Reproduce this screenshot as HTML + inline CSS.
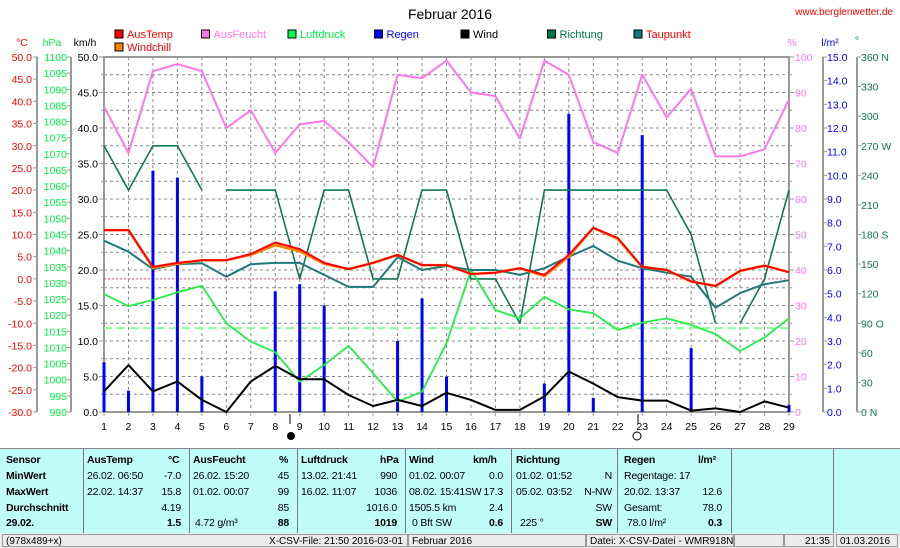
<!DOCTYPE html>
<html><head><meta charset="utf-8">
<style>
body{margin:0;width:900px;height:548px;background:#fff;font-family:"Liberation Sans",sans-serif;overflow:hidden;position:relative}
svg{position:absolute;left:0;top:0}
#tbl{position:absolute;left:0;top:448px;width:900px;height:84px;background:#c0fcf8;border-top:1px solid #888;font-size:10.5px;letter-spacing:-0.2px}
.c{position:absolute;top:0;height:84px;border-left:1px solid #777}
.t{position:absolute;white-space:nowrap}
.b{font-weight:bold}
#status{position:absolute;left:0;top:533px;width:900px;height:15px;background:#ececec;font-size:10px}
.s{position:absolute;top:1px;height:13px;border:1px solid #999;line-height:13px;padding:0 3px;box-sizing:border-box;white-space:nowrap}
</style></head><body>
<svg id="chart" width="900" height="448"></svg>

<div id="tbl">
<div class="c" style="left:83px"></div><div class="c" style="left:189px"></div><div class="c" style="left:297px"></div><div class="c" style="left:405px"></div><div class="c" style="left:511px"></div><div class="c" style="left:617px"></div><div class="c" style="left:731px"></div><div class="c" style="left:833px"></div>
<div class="t b" style="left:6px;top:5px">Sensor</div><div class="t b" style="left:6px;top:21px">MinWert</div><div class="t b" style="left:6px;top:37px">MaxWert</div><div class="t b" style="left:6px;top:53px">Durchschnitt</div><div class="t b" style="left:6px;top:68px">29.02.</div>
<div class="t b" style="left:87px;top:5px">AusTemp</div><div class="t b" style="left:168px;top:5px">°C</div>
<div class="t" style="left:87px;top:21px">26.02.  06:50</div><div class="t" style="right:719px;top:21px">-7.0</div>
<div class="t" style="left:87px;top:37px">22.02.  14:37</div><div class="t" style="right:719px;top:37px">15.8</div>
<div class="t" style="right:719px;top:53px">4.19</div><div class="t b" style="right:719px;top:68px">1.5</div>
<div class="t b" style="left:193px;top:5px">AusFeucht</div><div class="t b" style="left:279px;top:5px">%</div>
<div class="t" style="left:193px;top:21px">26.02.  15:20</div><div class="t" style="right:611px;top:21px">45</div>
<div class="t" style="left:193px;top:37px">01.02.  00:07</div><div class="t" style="right:611px;top:37px">99</div>
<div class="t" style="right:611px;top:53px">85</div><div class="t" style="left:195px;top:68px">4.72 g/m³</div><div class="t b" style="right:611px;top:68px">88</div>
<div class="t b" style="left:301px;top:5px">Luftdruck</div><div class="t b" style="left:380px;top:5px">hPa</div>
<div class="t" style="left:301px;top:21px">13.02.  21:41</div><div class="t" style="right:503px;top:21px">990</div>
<div class="t" style="left:301px;top:37px">16.02.  11:07</div><div class="t" style="right:503px;top:37px">1036</div>
<div class="t" style="right:503px;top:53px">1016.0</div><div class="t b" style="right:503px;top:68px">1019</div>
<div class="t b" style="left:409px;top:5px">Wind</div><div class="t b" style="left:473px;top:5px">km/h</div>
<div class="t" style="left:409px;top:21px">01.02.  00:07</div><div class="t" style="right:397px;top:21px">0.0</div>
<div class="t" style="left:409px;top:37px">08.02. 15:41SW</div><div class="t" style="right:397px;top:37px">17.3</div>
<div class="t" style="left:409px;top:53px">1505.5 km</div><div class="t" style="right:397px;top:53px">2.4</div>
<div class="t" style="left:412px;top:68px">0 Bft SW</div><div class="t b" style="right:397px;top:68px">0.6</div>
<div class="t b" style="left:516px;top:5px">Richtung</div>
<div class="t" style="left:516px;top:21px">01.02.  01:52</div><div class="t" style="right:288px;top:21px">N</div>
<div class="t" style="left:516px;top:37px">05.02.  03:52</div><div class="t" style="right:288px;top:37px">N-NW</div>
<div class="t" style="right:288px;top:53px">SW</div><div class="t" style="left:520px;top:68px">225 °</div><div class="t b" style="right:288px;top:68px">SW</div>
<div class="t b" style="left:624px;top:5px">Regen</div><div class="t b" style="left:698px;top:5px">l/m²</div>
<div class="t" style="left:624px;top:21px">Regentage: 17</div>
<div class="t" style="left:624px;top:37px">20.02.  13:37</div><div class="t" style="right:178px;top:37px">12.6</div>
<div class="t" style="left:624px;top:53px">Gesamt:</div><div class="t" style="right:178px;top:53px">78.0</div>
<div class="t" style="left:627px;top:68px">78.0 l/m²</div><div class="t b" style="right:178px;top:68px">0.3</div>
</div>
<div id="status">
<div class="s" style="left:2px;width:406px">(978x489+x)<span style="position:absolute;right:4px">X-CSV-File:  21:50  2016-03-01</span></div>
<div class="s" style="left:408px;width:178px">Februar 2016</div>
<div class="s" style="left:586px;width:148px">Datei: X-CSV-Datei - WMR918N</div>
<div class="s" style="left:734px;width:50px"></div>
<div class="s" style="left:784px;width:50px;text-align:right">21:35</div>
<div class="s" style="left:836px;width:62px">01.03.2016</div>
</div>

<script>
const days=[1,2,3,4,5,6,7,8,9,10,11,12,13,14,15,16,17,18,19,20,21,22,23,24,25,26,27,28,29];
const ausTemp=[11.0,11.0,2.7,3.6,4.2,4.2,5.6,8.2,6.7,3.6,2.2,3.6,5.4,3.1,3.1,1.1,1.4,2.4,0.9,5.4,11.5,9.2,2.7,2.0,-0.6,-1.6,1.8,3.0,1.5];
const windchill=[11.0,11.0,2.5,3.4,4.2,4.2,5.4,7.6,6.2,3.4,2.2,3.6,5.4,3.1,3.1,1.1,1.4,2.4,0.6,5.0,11.5,9.0,2.7,2.0,-0.6,-1.6,1.8,3.0,1.5];
const ausFeucht=[86,73,96,98,96,80,85,73,81,82,76,69,95,94,99,90,89,77,99,95,76,73,95,83,91,72,72,74,88];
const luftdruck=[1026.5,1022.8,1024.7,1027.1,1029.1,1017.5,1011.8,1008.5,999.4,1004.6,1010.5,1002,993.2,996.3,1011.3,1034,1021.6,1019,1025.7,1021.8,1020.6,1015.4,1017.7,1019,1017,1014.1,1008.9,1013.1,1019];
const regen=[2.1,0.9,10.2,9.9,1.5,0,0,5.1,5.4,4.5,0,0,3.0,4.8,1.5,0,0,0,1.2,12.6,0.6,0,11.7,0,2.7,0,0,0,0.3];
const wind=[2.9,6.6,2.9,4.3,1.7,0,4.3,6.5,4.6,4.6,2.4,0.85,1.7,0.85,2.7,1.7,0.3,0.3,2.2,5.7,4.0,2.1,1.6,1.6,0.2,0.5,0,1.5,0.6];
const richtung=[270,225,270,270,225,225,225,225,135,225,225,135,135,225,225,135,135,90,225,225,225,225,225,225,180,90,90,135,225];
const richtungBreaks=[5,26];
const taupunkt=[8.6,6.1,2.2,3.3,3.5,0.5,3.3,3.6,3.6,0.9,-1.8,-1.8,4.9,2.0,2.9,2.0,2.0,0.9,2.4,5.0,7.4,4.1,2.4,1.4,0.5,-6.5,-3.2,-1.2,-0.3];
const luftdruckAvg=[1016.0];
const tempTicks=[50,45,40,35,30,25,20,15,10,5,0,-5,-10,-15,-20,-25,-30];

const NS="http://www.w3.org/2000/svg";
const svg=document.getElementById('chart');
const L=104,R=789,T=57,B=412;
const X=d=>L+(d-1)*(R-L)/28;
const yT=v=>B-(v+30)*(B-T)/80;
const yP=v=>B-(v-990)*(B-T)/110;
const yK=v=>B-v*(B-T)/50;
const yH=v=>B-v*(B-T)/100;
const yR=v=>B-v*(B-T)/15;
const yD=v=>B-v*(B-T)/360;
function el(t,a,p){const e=document.createElementNS(NS,t);for(const k in a)e.setAttribute(k,a[k]);(p||svg).appendChild(e);return e;}
function txt(x,y,s,fill,anchor,size){const e=el('text',{x:x,y:y,fill:fill,'font-size':size||10.5,'text-anchor':anchor||'start','font-family':'Liberation Sans, sans-serif'});e.textContent=s;return e;}

let e=txt(450,19,'Februar 2016','#000','middle',14);


e=txt(893,15,'www.berglenwetter.de','#f00','end',10);



const legNames=['AusTemp','AusFeucht','Luftdruck','Regen','Wind','Richtung','Taupunkt'];
const legCols=['#ff0000','#ff77ee','#00ff44','#0000ff','#000000','#007744','#117777'];
const legText=['#ff0000','#ff77ee','#00ee44','#0000ff','#000000','#007744','#ff0000'];
for(let i=0;i<7;i++){
  const g=el('g',{});
  
  
  const x=115+i*86.5;
  el('rect',{x:x,y:30,width:8,height:8,fill:legCols[i],stroke:'#000','stroke-width':1},g);
  g.appendChild(txt(x+12,38,legNames[i],legText[i],'start',11));
}
{const g=el('g',{});


el('rect',{x:115,y:43,width:8,height:8,fill:'#ff8000',stroke:'#000','stroke-width':1},g);
g.appendChild(txt(127,51,'Windchill','#ff0000','start',11));}

txt(22,46,'°C','#f00','middle');txt(52,46,'hPa','#00ee44','middle');txt(85,46,'km/h','#000','middle');
txt(792,46,'%','#ff77ee','middle');txt(830,46,'l/m²','#0000ff','middle');txt(857,44,'°','#007744','middle');

const grid=el('g',{stroke:'#888','stroke-width':1,'stroke-dasharray':'3,3'});


for(let i=1;i<20;i++){const y=T+i*(B-T)/20;el('line',{x1:L,x2:R,y1:y,y2:y},grid);}
days.forEach(d=>{if(d>1&&d<29)el('line',{x1:X(d),x2:X(d),y1:T,y2:B},grid);});

el('rect',{x:L,y:T,width:R-L,height:B-T,fill:'none',stroke:'#999','stroke-width':2});

const axC=el('g',{});
el('line',{x1:37,x2:37,y1:T,y2:B,stroke:'#999','stroke-width':2},axC);
tempTicks.forEach(v=>{const y=yT(v);el('line',{x1:33,x2:37,y1:y,y2:y,stroke:'#999'},axC);axC.appendChild(txt(32,y+4,v.toFixed(1),'#f00','end'));});
const axP=el('g',{});
el('line',{x1:71,x2:71,y1:T,y2:B,stroke:'#999','stroke-width':2},axP);
for(let v=990;v<=1100;v+=5){const y=yP(v);el('line',{x1:67,x2:71,y1:y,y2:y,stroke:'#999'},axP);axP.appendChild(txt(67,y+4,String(v),'#00ee44','end'));}
const axK=el('g',{});
for(let v=0;v<=50;v+=2.5){const y=yK(v);el('line',{x1:v%5?101:99,x2:104,y1:y,y2:y,stroke:'#999'},axK);if(v%5==0)axK.appendChild(txt(98,y+4,v.toFixed(1),'#000','end'));}

const axH=el('g',{});
for(let v=0;v<=100;v+=5){const y=yH(v);el('line',{x1:789,x2:v%10?792:794,y1:y,y2:y,stroke:'#999'},axH);if(v%10==0)axH.appendChild(txt(795,y+4,String(v),'#ff77ee','start'));}
const axR=el('g',{});
el('line',{x1:823,x2:823,y1:T,y2:B,stroke:'#999','stroke-width':2},axR);
for(let v=0;v<=15;v++){const y=yR(v);el('line',{x1:823,x2:827,y1:y,y2:y,stroke:'#999'},axR);axR.appendChild(txt(827,y+4,v.toFixed(1),'#0000ff','start'));}
const axD=el('g',{});
el('line',{x1:857,x2:857,y1:T,y2:B,stroke:'#999','stroke-width':2},axD);
const dirLab={360:'360 N',270:'270 W',180:'180 S',90:'90  O',0:'0    N'};
for(let v=0;v<=360;v+=30){const y=yD(v);el('line',{x1:857,x2:861,y1:y,y2:y,stroke:'#999'},axD);axD.appendChild(txt(861,y+4,dirLab[v]||String(v),'#117755','start'));}

const axX=el('g',{});
days.forEach(d=>{el('line',{x1:X(d),x2:X(d),y1:B,y2:B+4,stroke:'#999'},axX);axX.appendChild(txt(X(d),430,String(d),'#000','middle'));});
el('line',{x1:290,x2:290,y1:B+2,y2:B+12,stroke:'#000'});el('line',{x1:638,x2:638,y1:B+2,y2:B+12,stroke:'#000'});
e=el('circle',{cx:291,cy:436,r:4,fill:'#000'});
e=el('circle',{cx:637,cy:436,r:4,fill:'#fff',stroke:'#000'});

e=el('line',{x1:L,x2:R,y1:yT(0),y2:yT(0),stroke:'#ff3377','stroke-dasharray':'2,2'});
e=el('line',{x1:L,x2:R,y1:yP(luftdruckAvg[0]),y2:yP(luftdruckAvg[0]),stroke:'#88ff99','stroke-width':2,'stroke-dasharray':'8,5'});

const rg=el('g',{});
regen.forEach((v,i)=>{if(v>0){const b=el('rect',{x:X(days[i])-1.5,y:yR(v),width:3,height:B-yR(v),fill:'#0000ff'},rg);}});

function line(vals,fy,col,w,name,breaks){
  let d='';vals.forEach((v,i)=>{const brk=i==0||(breaks&&breaks.includes(days[i-1]));d+=(brk?'M':'L')+X(days[i]).toFixed(1)+','+fy(v).toFixed(1);});
  const p=el('path',{d:d,fill:'none',stroke:col,'stroke-width':w,'stroke-linejoin':'round'});
  
  
}
line(ausFeucht,yH,'#ff77ee',2,'humidity-line');
line(richtung,yD,'#117755',1.6,'direction-line',richtungBreaks);
line(luftdruck,yP,'#22ee44',1.8,'pressure-line');
line(wind,yK,'#000',2,'wind-line');
line(taupunkt,yT,'#227777',2,'dewpoint-line');
line(windchill,yT,'#ff8800',2.5,'windchill-line');
line(ausTemp,yT,'#ff0000',2,'temperature-line');
</script>
</body></html>
